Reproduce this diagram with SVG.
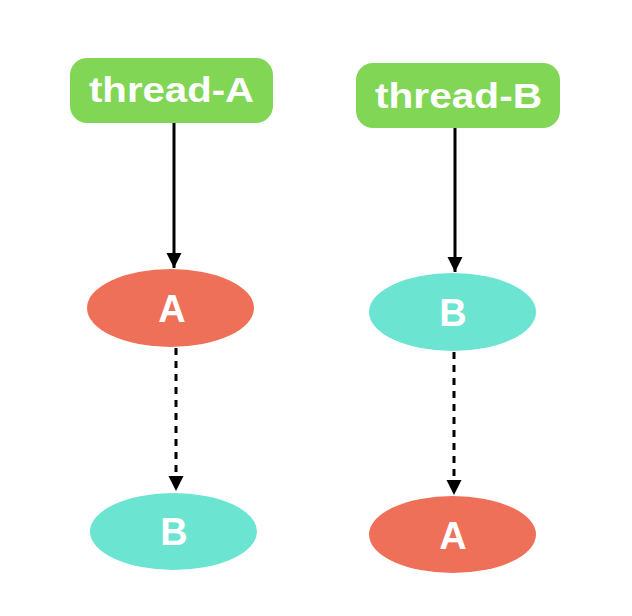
<svg xmlns="http://www.w3.org/2000/svg" width="632" height="616" viewBox="0 0 632 616">
<style>
.thread{fill:#82D656}
.red{fill:#EF7059}
.teal{fill:#6BE4D2}
.lbl{font-family:"Liberation Sans",Arial,Helvetica,sans-serif;font-weight:bold;fill:#FFFFFF;text-anchor:middle}
.t{font-size:35px}
.n{font-size:38px}
.edge{stroke:#000;stroke-width:3;fill:none}
.dash{stroke-dasharray:7 6}
</style>
<defs>
<marker id="arr" markerUnits="userSpaceOnUse" markerWidth="16" markerHeight="16" viewBox="0 0 16 16" refX="15" refY="8" orient="auto">
<path d="M0,0.5 L15,8 L0,15.5 z" fill="#000"/>
</marker>
</defs>
<rect width="632" height="616" fill="#FFFFFF"/>
<g id="connectors">
<line class="edge" x1="174" y1="123" x2="174" y2="268" marker-end="url(#arr)"/>
<line class="edge dash" x1="176" y1="348" x2="176" y2="491" marker-end="url(#arr)"/>
<line class="edge" x1="455" y1="128" x2="455" y2="272" marker-end="url(#arr)"/>
<line class="edge dash" x1="454" y1="352" x2="454" y2="495" marker-end="url(#arr)"/>
</g>
<g id="threadA">
<rect class="thread" x="70" y="58" width="203" height="65" rx="17"/>
<text class="lbl t" x="171.5" y="102" textLength="165" lengthAdjust="spacingAndGlyphs">thread-A</text>
</g>
<g id="threadB">
<rect class="thread" x="356" y="63" width="204" height="65" rx="17"/>
<text class="lbl t" x="458.5" y="108" textLength="167" lengthAdjust="spacingAndGlyphs">thread-B</text>
</g>
<g id="nodeA1">
<ellipse class="red" cx="170.5" cy="308" rx="83.5" ry="39"/>
<text class="lbl n" x="172" y="322">A</text>
</g>
<g id="nodeB1">
<ellipse class="teal" cx="173.5" cy="531.5" rx="83.5" ry="38.5"/>
<text class="lbl n" x="174" y="545">B</text>
</g>
<g id="nodeB2">
<ellipse class="teal" cx="452.5" cy="312" rx="83.5" ry="39"/>
<text class="lbl n" x="453" y="326">B</text>
</g>
<g id="nodeA2">
<ellipse class="red" cx="452.5" cy="534.5" rx="83.5" ry="38.5"/>
<text class="lbl n" x="453" y="549">A</text>
</g>
</svg>
